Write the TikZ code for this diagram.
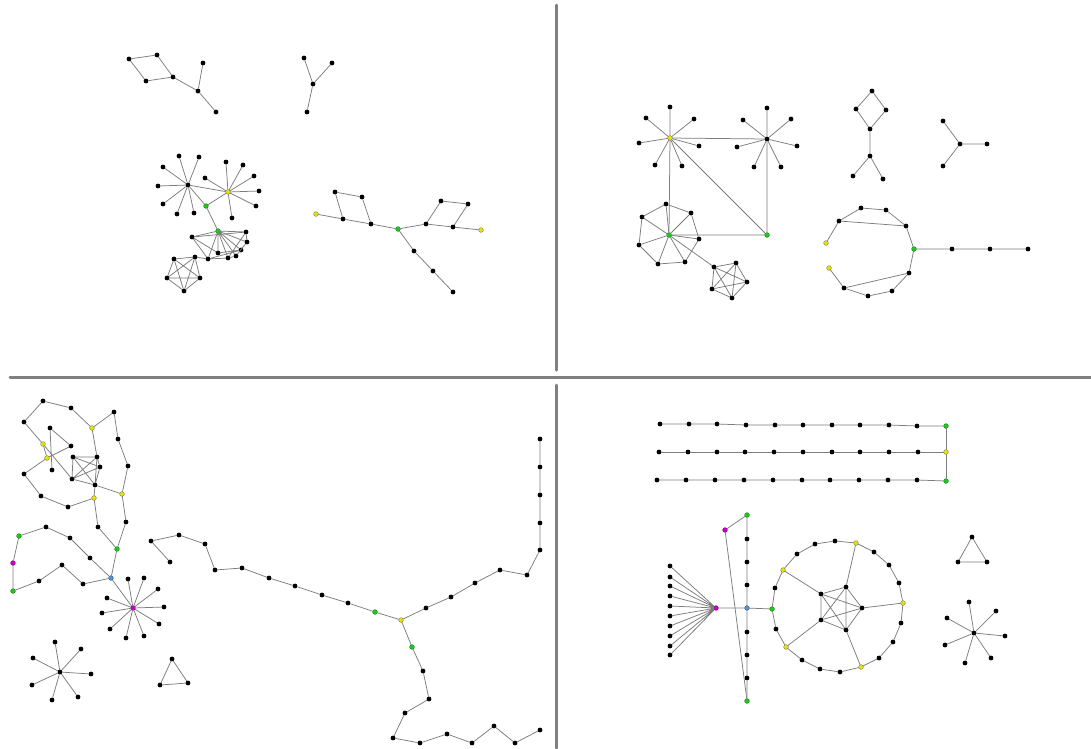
\documentclass[tikz,border=0pt]{standalone}
\usepackage{tikz}
\definecolor{vyellow}{RGB}{228,224,0}
\definecolor{vgreen}{RGB}{30,200,30}
\definecolor{vmagenta}{RGB}{200,0,200}
\definecolor{vblue}{RGB}{85,145,205}
\definecolor{lnkgray}{RGB}{125,125,125}
\definecolor{framegray}{RGB}{128,128,128}
\tikzset{
  vtx/.style={circle,fill=black,inner sep=0pt,minimum size=4.8pt},
  vy/.style={vtx,fill=vyellow,draw=black!55,line width=0.3pt},
  vg/.style={vtx,fill=vgreen,draw=vgreen!60!black,line width=0.3pt},
  vm/.style={vtx,fill=vmagenta,draw=vmagenta!60!black,line width=0.3pt},
  vb/.style={vtx,fill=vblue,draw=vblue!60!black,line width=0.3pt},
  lnk/.style={draw=lnkgray,line width=0.75pt},
  frame/.style={draw=framegray,line width=3pt}
}
\begin{document}
\begin{tikzpicture}[x=1pt,y=-1pt,line cap=round,line join=round]
  \useasboundingbox (0,0) rectangle (1091,748);
  \fill[white] (0,0) rectangle (1091,748);
  % panel frames
  \draw[frame] (556,5) -- (556,370);
  \draw[frame] (556,385) -- (556,748);
  \draw[frame] (10,377) -- (1091,377);
  % ---------- top left ----------
  \node[vtx] (a1) at (129,59) {}; \node[vtx] (a2) at (157,55) {}; \node[vtx] (a3) at (146,81) {};
  \node[vtx] (a4) at (173,77) {}; \node[vtx] (a5) at (203,63) {}; \node[vtx] (a6) at (198,91) {};
  \node[vtx] (a7) at (216,112) {};
  \node[vtx] (a8) at (313,84) {}; \node[vtx] (a9) at (304,58) {}; \node[vtx] (a10) at (332,63) {};
  \node[vtx] (a11) at (307,112) {};
  \node[vtx] (a12) at (188,185) {}; \node[vtx] (a13) at (179,156) {}; \node[vtx] (a14) at (199,157) {};
  \node[vtx] (a15) at (163,167) {}; \node[vtx] (a16) at (158,186) {}; \node[vtx] (a17) at (163,204) {};
  \node[vtx] (a18) at (177,214) {}; \node[vtx] (a19) at (194,213) {};
  \node[vy] (a20) at (228,192) {}; \node[vtx] (a21) at (226,162) {}; \node[vtx] (a22) at (243,165) {};
  \node[vtx] (a23) at (254,176) {}; \node[vtx] (a24) at (259,191) {}; \node[vtx] (a25) at (256,206) {};
  \node[vtx] (a26) at (232,218) {}; \node[vtx] (a27) at (205,178) {};
  \node[vg] (a28) at (206,206) {}; \node[vg] (a29) at (218,231) {};
  \node[vtx] (a30) at (192,237) {}; \node[vtx] (a31) at (208,259) {}; \node[vtx] (a32) at (218,253) {};
  \node[vtx] (a33) at (228,258) {}; \node[vtx] (a34) at (236,256) {}; \node[vtx] (a35) at (241,250) {};
  \node[vtx] (a36) at (247,242) {}; \node[vtx] (a37) at (246,232) {};
  \node[vtx] (a38) at (174,259) {}; \node[vtx] (a39) at (195,257) {}; \node[vtx] (a40) at (200,278) {};
  \node[vtx] (a41) at (184,291) {}; \node[vtx] (a42) at (167,278) {};
  \node[vy] (a43) at (316,214) {}; \node[vtx] (a44) at (343,219) {}; \node[vtx] (a45) at (335,192) {};
  \node[vtx] (a46) at (362,197) {}; \node[vtx] (a47) at (371,224) {}; \node[vg] (a48) at (398,229) {};
  \node[vtx] (a49) at (426,224) {}; \node[vtx] (a50) at (441,201) {}; \node[vtx] (a51) at (468,204) {};
  \node[vtx] (a52) at (453,227) {}; \node[vy] (a53) at (481,230) {}; \node[vtx] (a54) at (414,251) {};
  \node[vtx] (a55) at (433,271) {}; \node[vtx] (a56) at (453,292) {};
  \draw[lnk] (a1) -- (a2) -- (a4) -- (a3) -- (a1) (a4) -- (a6) -- (a5) (a6) -- (a7);
  \draw[lnk] (a8) -- (a9) (a8) -- (a10) (a8) -- (a11);
  \draw[lnk] (a12) -- (a13) (a12) -- (a14) (a12) -- (a15) (a12) -- (a16) (a12) -- (a17) (a12) -- (a18) (a12) -- (a19);
  \draw[lnk] (a20) -- (a21) (a20) -- (a22) (a20) -- (a23) (a20) -- (a24) (a20) -- (a25) (a20) -- (a26) (a20) -- (a27);
  \draw[lnk] (a12) -- (a20) (a12) -- (a28) (a20) -- (a28) (a28) -- (a29);
  \draw[lnk] (a29) -- (a30) (a29) -- (a31) (a29) -- (a32) (a29) -- (a33) (a29) -- (a34) (a29) -- (a35) (a29) -- (a36) (a29) -- (a37);
  \draw[lnk] (a30) -- (a31) -- (a33) -- (a34) -- (a36) -- (a37) -- (a30) (a30) -- (a32) -- (a35) (a31) -- (a35) (a33) -- (a37);
  \draw[lnk] (a38) -- (a39) -- (a40) -- (a41) -- (a42) -- (a38) -- (a40) -- (a42) -- (a39) -- (a41) -- (a38) (a39) -- (a31);
  \draw[lnk] (a43) -- (a44) -- (a45) -- (a46) -- (a47) -- (a44) (a47) -- (a48) -- (a49) -- (a50) -- (a51) -- (a52) -- (a49) (a52) -- (a53);
  \draw[lnk] (a48) -- (a54) -- (a55) -- (a56);
  % ---------- top right ----------
  \node[vy] (b1) at (670,138) {}; \node[vtx] (b2) at (670,107) {}; \node[vtx] (b3) at (646,118) {};
  \node[vtx] (b4) at (694,119) {}; \node[vtx] (b5) at (639,143) {}; \node[vtx] (b6) at (699,146) {};
  \node[vtx] (b7) at (655,165) {}; \node[vtx] (b8) at (682,166) {};
  \node[vtx] (b9) at (767,139) {}; \node[vtx] (b10) at (767,108) {}; \node[vtx] (b11) at (743,120) {};
  \node[vtx] (b12) at (791,119) {}; \node[vtx] (b13) at (737,147) {}; \node[vtx] (b14) at (797,146) {};
  \node[vtx] (b15) at (754,167) {}; \node[vtx] (b16) at (781,167) {};
  \node[vg] (b17) at (669,235) {}; \node[vg] (b18) at (767,235) {};
  \node[vtx] (b19) at (666,204) {}; \node[vtx] (b20) at (691,213) {}; \node[vtx] (b21) at (699,239) {};
  \node[vtx] (b22) at (685,262) {}; \node[vtx] (b23) at (658,264) {}; \node[vtx] (b24) at (639,245) {};
  \node[vtx] (b25) at (642,217) {};
  \node[vtx] (b26) at (714,267) {}; \node[vtx] (b27) at (736,263) {}; \node[vtx] (b28) at (747,282) {};
  \node[vtx] (b29) at (732,298) {}; \node[vtx] (b30) at (712,289) {};
  \node[vtx] (b31) at (872,91) {}; \node[vtx] (b32) at (856,109) {}; \node[vtx] (b33) at (886,110) {};
  \node[vtx] (b34) at (870,129) {}; \node[vtx] (b35) at (870,156) {}; \node[vtx] (b36) at (853,176) {};
  \node[vtx] (b37) at (883,179) {};
  \node[vtx] (b38) at (960,144) {}; \node[vtx] (b39) at (943,121) {}; \node[vtx] (b40) at (987,144) {};
  \node[vtx] (b41) at (943,166) {};
  \node[vy] (b42) at (826,243) {}; \node[vtx] (b43) at (839,221) {}; \node[vtx] (b44) at (861,208) {};
  \node[vtx] (b45) at (886,210) {}; \node[vtx] (b46) at (906,226) {}; \node[vg] (b47) at (914,249) {};
  \node[vtx] (b48) at (909,273) {}; \node[vtx] (b49) at (892,291) {}; \node[vtx] (b50) at (868,296) {};
  \node[vtx] (b51) at (844,288) {}; \node[vy] (b52) at (829,268) {}; \node[vtx] (b53) at (952,249) {};
  \node[vtx] (b54) at (990,249) {}; \node[vtx] (b55) at (1028,249) {};
  \draw[lnk] (b1) -- (b2) (b1) -- (b3) (b1) -- (b4) (b1) -- (b5) (b1) -- (b6) (b1) -- (b7) (b1) -- (b8);
  \draw[lnk] (b9) -- (b10) (b9) -- (b11) (b9) -- (b12) (b9) -- (b13) (b9) -- (b14) (b9) -- (b15) (b9) -- (b16);
  \draw[lnk] (b1) -- (b9) -- (b18) -- (b17) -- (b1) -- (b18);
  \draw[lnk] (b19) -- (b20) -- (b21) -- (b22) -- (b23) -- (b24) -- (b25) -- (b19);
  \draw[lnk] (b17) -- (b19) (b17) -- (b20) (b17) -- (b21) (b17) -- (b22) (b17) -- (b23) (b17) -- (b24) (b17) -- (b25);
  \draw[lnk] (b26) -- (b27) -- (b28) -- (b29) -- (b30) -- (b26) -- (b28) -- (b30) -- (b27) -- (b29) -- (b26) (b17) -- (b26);
  \draw[lnk] (b31) -- (b32) -- (b34) -- (b33) -- (b31) (b34) -- (b35) -- (b36) (b35) -- (b37);
  \draw[lnk] (b38) -- (b39) (b38) -- (b40) (b38) -- (b41);
  \draw[lnk] (b42) -- (b43) -- (b44) -- (b45) -- (b46) -- (b47) -- (b48) -- (b49) -- (b50) -- (b51) -- (b52);
  \draw[lnk] (b43) -- (b46) (b51) -- (b48) (b47) -- (b53) -- (b54) -- (b55);
  % ---------- bottom left ----------
  \node[vtx] (c1) at (24,422) {}; \node[vtx] (c2) at (43,401) {}; \node[vtx] (c3) at (71,408) {};
  \node[vy] (c4) at (92,428) {}; \node[vtx] (c5) at (114,412) {}; \node[vtx] (c6) at (118,439) {};
  \node[vtx] (c7) at (128,466) {}; \node[vy] (c8) at (122,494) {}; \node[vtx] (c9) at (126,522) {};
  \node[vg] (c10) at (117,549) {}; \node[vb] (c11) at (111,578) {};
  \node[vtx] (c12) at (50,428) {}; \node[vy] (c13) at (43,444) {}; \node[vtx] (c14) at (71,446) {};
  \node[vy] (c15) at (47,458) {}; \node[vtx] (c16) at (52,470) {}; \node[vtx] (c17) at (24,474) {};
  \node[vtx] (c18) at (41,496) {}; \node[vtx] (c19) at (68,507) {}; \node[vy] (c20) at (94,498) {};
  \node[vtx] (c21) at (98,527) {};
  \node[vtx] (c22) at (73,457) {}; \node[vtx] (c23) at (97,457) {}; \node[vtx] (c24) at (100,467) {};
  \node[vtx] (c25) at (72,479) {}; \node[vtx] (c26) at (95,485) {};
  \node[vtx] (c27) at (90,558) {}; \node[vtx] (c28) at (70,538) {}; \node[vtx] (c29) at (46,527) {};
  \node[vg] (c30) at (19,536) {}; \node[vm] (c31) at (13,563) {}; \node[vg] (c32) at (13,591) {};
  \node[vtx] (c33) at (39,581) {}; \node[vtx] (c34) at (62,565) {}; \node[vtx] (c35) at (83,584) {};
  \node[vm] (c36) at (133,608) {}; \node[vtx] (c37) at (128,579) {}; \node[vtx] (c38) at (144,578) {};
  \node[vtx] (c39) at (158,589) {}; \node[vtx] (c40) at (107,598) {}; \node[vtx] (c41) at (102,613) {};
  \node[vtx] (c42) at (164,607) {}; \node[vtx] (c43) at (159,624) {}; \node[vtx] (c44) at (110,629) {};
  \node[vtx] (c45) at (126,638) {}; \node[vtx] (c46) at (144,636) {};
  \node[vtx] (c47) at (60,672) {}; \node[vtx] (c48) at (55,642) {}; \node[vtx] (c49) at (81,649) {};
  \node[vtx] (c50) at (33,658) {}; \node[vtx] (c51) at (91,674) {}; \node[vtx] (c52) at (32,685) {};
  \node[vtx] (c53) at (78,697) {}; \node[vtx] (c54) at (52,700) {};
  \node[vtx] (c55) at (172,659) {}; \node[vtx] (c56) at (160,685) {}; \node[vtx] (c57) at (188,683) {};
  \node[vtx] (c58) at (170,562) {}; \node[vtx] (c59) at (151,541) {}; \node[vtx] (c60) at (179,535) {};
  \node[vtx] (c61) at (205,544) {}; \node[vtx] (c62) at (215,570) {}; \node[vtx] (c63) at (242,568) {};
  \node[vtx] (c64) at (269,578) {}; \node[vtx] (c65) at (295,586) {}; \node[vtx] (c66) at (322,595) {};
  \node[vtx] (c67) at (348,603) {}; \node[vg] (c68) at (375,612) {}; \node[vy] (c69) at (401,620) {};
  \node[vtx] (c70) at (426,608) {}; \node[vtx] (c71) at (451,597) {}; \node[vtx] (c72) at (475,583) {};
  \node[vtx] (c73) at (500,570) {}; \node[vtx] (c74) at (527,575) {}; \node[vtx] (c75) at (540,550) {};
  \node[vtx] (c76) at (540,523) {}; \node[vtx] (c77) at (540,495) {}; \node[vtx] (c78) at (540,467) {};
  \node[vtx] (c79) at (540,439) {};
  \node[vg] (c80) at (412,647) {}; \node[vtx] (c81) at (423,671) {}; \node[vtx] (c82) at (429,699) {};
  \node[vtx] (c83) at (405,713) {}; \node[vtx] (c84) at (393,738) {}; \node[vtx] (c85) at (420,743) {};
  \node[vtx] (c86) at (447,734) {}; \node[vtx] (c87) at (472,743) {}; \node[vtx] (c88) at (494,726) {};
  \node[vtx] (c89) at (515,743) {}; \node[vtx] (c90) at (540,730) {};
  \draw[lnk] (c1) -- (c2) -- (c3) -- (c4) -- (c5) -- (c6) -- (c7) -- (c8) -- (c9) -- (c10) -- (c11);
  \draw[lnk] (c4) -- (c23) (c1) -- (c13) -- (c15) -- (c17) -- (c18) -- (c19) -- (c20) -- (c21) -- (c10);
  \draw[lnk] (c12) -- (c16) (c12) -- (c14) -- (c15) (c13) -- (c25) (c20) -- (c26) -- (c8);
  \draw[lnk] (c22) -- (c23) -- (c24) -- (c26) -- (c25) -- (c22) -- (c24) -- (c25) -- (c23) -- (c26) -- (c22);
  \draw[lnk] (c11) -- (c27) -- (c28) -- (c29) -- (c30) -- (c31) -- (c32) -- (c33) -- (c34) -- (c35) -- (c11);
  \draw[lnk] (c11) -- (c36);
  \draw[lnk] (c36) -- (c37) (c36) -- (c38) (c36) -- (c39) (c36) -- (c40) (c36) -- (c41) (c36) -- (c42) (c36) -- (c43) (c36) -- (c44) (c36) -- (c45) (c36) -- (c46);
  \draw[lnk] (c47) -- (c48) (c47) -- (c49) (c47) -- (c50) (c47) -- (c51) (c47) -- (c52) (c47) -- (c53) (c47) -- (c54);
  \draw[lnk] (c55) -- (c56) -- (c57) -- (c55);
  \draw[lnk] (c58) -- (c59) -- (c60) -- (c61) -- (c62) -- (c63) -- (c64) -- (c65) -- (c66) -- (c67) -- (c68) -- (c69);
  \draw[lnk] (c69) -- (c70) -- (c71) -- (c72) -- (c73) -- (c74) -- (c75) -- (c76) -- (c77) -- (c78) -- (c79);
  \draw[lnk] (c69) -- (c80) -- (c81) -- (c82) -- (c83) -- (c84) -- (c85) -- (c86) -- (c87) -- (c88) -- (c89) -- (c90);
  % ---------- bottom right ----------
  \node[vtx] (d1) at (660,424) {}; \node[vtx] (d2) at (689,424) {}; \node[vtx] (d3) at (717,424) {};
  \node[vtx] (d4) at (746,425) {}; \node[vtx] (d5) at (775,425) {}; \node[vtx] (d6) at (803,425) {};
  \node[vtx] (d7) at (832,425) {}; \node[vtx] (d8) at (860,425) {}; \node[vtx] (d9) at (889,425) {};
  \node[vtx] (d10) at (917,426) {}; \node[vg] (d11) at (946,426) {};
  \node[vtx] (d12) at (659,452) {}; \node[vtx] (d13) at (688,452) {}; \node[vtx] (d14) at (717,452) {};
  \node[vtx] (d15) at (745,452) {}; \node[vtx] (d16) at (774,452) {}; \node[vtx] (d17) at (803,452) {};
  \node[vtx] (d18) at (832,452) {}; \node[vtx] (d19) at (860,452) {}; \node[vtx] (d20) at (889,452) {};
  \node[vtx] (d21) at (918,452) {}; \node[vy] (d22) at (946,452) {};
  \node[vtx] (d23) at (657,480) {}; \node[vtx] (d24) at (686,480) {}; \node[vtx] (d25) at (715,480) {};
  \node[vtx] (d26) at (744,480) {}; \node[vtx] (d27) at (773,480) {}; \node[vtx] (d28) at (802,480) {};
  \node[vtx] (d29) at (830,480) {}; \node[vtx] (d30) at (859,480) {}; \node[vtx] (d31) at (888,480) {};
  \node[vtx] (d32) at (917,480) {}; \node[vg] (d33) at (946,481) {};
  \draw[lnk] (d1) -- (d2) -- (d3) -- (d4) -- (d5) -- (d6) -- (d7) -- (d8) -- (d9) -- (d10) -- (d11);
  \draw[lnk] (d12) -- (d13) -- (d14) -- (d15) -- (d16) -- (d17) -- (d18) -- (d19) -- (d20) -- (d21) -- (d22);
  \draw[lnk] (d23) -- (d24) -- (d25) -- (d26) -- (d27) -- (d28) -- (d29) -- (d30) -- (d31) -- (d32) -- (d33);
  \draw[lnk] (d11) -- (d22) -- (d33);
  \node[vm] (e1) at (716,608) {};
  \node[vg] (e2) at (747,515) {}; \node[vtx] (e3) at (747,539) {}; \node[vtx] (e4) at (747,562) {};
  \node[vtx] (e5) at (747,585) {}; \node[vb] (e6) at (747,608) {}; \node[vtx] (e7) at (747,632) {};
  \node[vtx] (e8) at (747,655) {}; \node[vtx] (e9) at (747,678) {}; \node[vg] (e10) at (747,701) {};
  \node[vm] (e11) at (725,530) {}; \node[vg] (e12) at (772,609) {};
  \node[vtx] (f1) at (670,566) {}; \node[vtx] (f2) at (670,577) {}; \node[vtx] (f3) at (670,586) {};
  \node[vtx] (f4) at (670,596) {}; \node[vtx] (f5) at (670,606) {}; \node[vtx] (f6) at (670,616) {};
  \node[vtx] (f7) at (670,626) {}; \node[vtx] (f8) at (670,636) {}; \node[vtx] (f9) at (670,646) {};
  \node[vtx] (f10) at (670,655) {};
  \draw[lnk] (e1) -- (f1) (e1) -- (f2) (e1) -- (f3) (e1) -- (f4) (e1) -- (f5) (e1) -- (f6) (e1) -- (f7) (e1) -- (f8) (e1) -- (f9) (e1) -- (f10);
  \draw[lnk] (e1) -- (e6) -- (e12) (e2) -- (e3) -- (e4) -- (e5) -- (e6) -- (e7) -- (e8) -- (e9) -- (e10);
  \draw[lnk] (e2) -- (e11) -- (e10);
  \node[vtx] (g1) at (775,588) {}; \node[vy] (g2) at (783,570) {}; \node[vtx] (g3) at (797,554) {};
  \node[vtx] (g4) at (815,544) {}; \node[vtx] (g5) at (835,541) {}; \node[vy] (g6) at (856,543) {};
  \node[vtx] (g7) at (874,552) {}; \node[vtx] (g8) at (889,565) {}; \node[vtx] (g9) at (899,583) {};
  \node[vy] (g10) at (903,603) {}; \node[vtx] (g11) at (901,623) {}; \node[vtx] (g12) at (893,642) {};
  \node[vtx] (g13) at (879,658) {}; \node[vy] (g14) at (861,667) {}; \node[vtx] (g15) at (840,672) {};
  \node[vtx] (g16) at (820,669) {}; \node[vtx] (g17) at (802,660) {}; \node[vy] (g18) at (786,647) {};
  \node[vtx] (g19) at (776,629) {};
  \node[vtx] (h1) at (846,587) {}; \node[vtx] (h2) at (862,608) {}; \node[vtx] (h3) at (846,630) {};
  \node[vtx] (h4) at (821,620) {}; \node[vtx] (h5) at (821,594) {};
  \draw[lnk] (e12) -- (g1) -- (g2) -- (g3) -- (g4) -- (g5) -- (g6) -- (g7) -- (g8) -- (g9) -- (g10);
  \draw[lnk] (g10) -- (g11) -- (g12) -- (g13) -- (g14) -- (g15) -- (g16) -- (g17) -- (g18) -- (g19) -- (e12);
  \draw[lnk] (h1) -- (h2) -- (h3) -- (h4) -- (h5) -- (h1) -- (h3) -- (h5) -- (h2) -- (h4) -- (h1);
  \draw[lnk] (g2) -- (h5) (g6) -- (h1) (g10) -- (h2) (g14) -- (h3) (g18) -- (h4);
  \node[vtx] (k1) at (972,537) {}; \node[vtx] (k2) at (958,562) {}; \node[vtx] (k3) at (987,562) {};
  \draw[lnk] (k1) -- (k2) -- (k3) -- (k1);
  \node[vtx] (m0) at (974,633) {}; \node[vtx] (m1) at (969,602) {}; \node[vtx] (m2) at (996,611) {};
  \node[vtx] (m3) at (947,618) {}; \node[vtx] (m4) at (1005,636) {}; \node[vtx] (m5) at (945,645) {};
  \node[vtx] (m6) at (991,658) {}; \node[vtx] (m7) at (965,663) {};
  \draw[lnk] (m0) -- (m1) (m0) -- (m2) (m0) -- (m3) (m0) -- (m4) (m0) -- (m5) (m0) -- (m6) (m0) -- (m7);
\end{tikzpicture}
\end{document}
